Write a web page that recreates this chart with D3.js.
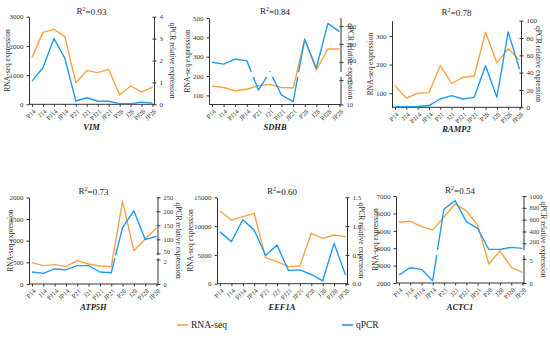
<!DOCTYPE html>
<html>
<head>
<meta charset="utf-8">
<script src="https://cdn.jsdelivr.net/npm/d3@7/dist/d3.min.js"></script>
<style>
  body { margin: 0; background: #fff; }
  svg { display: block; font-family: "Liberation Serif", "Times New Roman", serif; }
  .axis path, .axis line { stroke: #333; }
  .axis text { fill: #333; font-size: 7px; font-family: "Liberation Serif", serif; }
</style>
</head>
<body>
<svg width="550" height="338"></svg>
<script>
// samples along x
const samples = ["P14", "J14", "PJ14", "JP14", "P21", "J21", "PJ21", "JP21", "P28", "J28", "PJ28", "JP28"];
const genes = ["VIM", "SDHB", "RAMP2", "ATP5H", "EEF1A", "ACTC1"];
const r2 = ["0.93", "0.84", "0.78", "0.73", "0.60", "0.54"];

// RNA-seq values (left axis)
const rnaVIM = [1608, 2464, 2567, 2315, 741, 1152, 1084, 1198, 319, 627, 422, 582];
const rnaSDHB = [148, 141, 124, 132, 150, 157, 141, 138, 390, 231, 340, 340];
const rnaRAMP2 = [126, 83, 100, 102, 197, 134, 155, 160, 313, 206, 255, 216];
const rnaATP5H = [492, 423, 446, 400, 538, 462, 415, 400, 1908, 769, 1038, 1300];
const rnaEEF1A = [12625, 11062, 11640, 12220, 4517, 3822, 2954, 3070, 8745, 7876, 8456, 8166];
const rnaACTC1 = [5492, 5550, 5244, 5053, 5779, 6542, 6141, 5340, 3088, 3851, 2897, 2611];

// qPCR values (right axis)
const qVIM = [1.06, 1.67, 3.01, 2.10, 0.15, 0.30, 0.14, 0.14, 0.03, 0.03, 0.10, 0.05];
const qSDHB = [98, 88, 115, 107, 12.95, 45, 11.9, 10.6, 226, 65, 314, 268];
const qRAMP2 = [0.8, 0.8, 1, 2, 9.6, 13.5, 9.6, 11.5, 48, 11.5, 87, 44];
const qATP5H = [0.98, 0.87, 1.23, 1.17, 1.5, 1.5, 0.98, 0.92, 142, 202, 99, 111];
const qEEF1A = [0.90, 0.73, 1.11, 0.93, 0.49, 0.67, 0.23, 0.24, 0.16, 0.05, 0.70, 0.15];
const qACTC1 = [1.66, 3.17, 2.83, 0.48, 776, 922, 566, 454, 95, 95, 132, 115];

// tick labels
const leftTicks = [
  [0, 1000, 2000, 3000],
  [100, 200, 300, 400, 500],
  [100, 200, 300],
  [0, 500, 1000, 1500, 2000],
  [0, 5000, 10000, 15000],
  [2000, 3000, 4000, 5000, 6000, 7000]
];
const rightTicks = [
  [0, 1, 2, 3, 4],
  [10, 15, 100, 200, 300],
  [0, 20, 40, 60, 80, 100],
  [0, 2, 50, 100, 150, 200, 250],
  [0, 0.5, 1, 1.5],
  [0, 5, 200, 400, 600, 800, 1000]
];

const rnaData = [rnaVIM, rnaSDHB, rnaRAMP2, rnaATP5H, rnaEEF1A, rnaACTC1];
const qData = [qVIM, qSDHB, qRAMP2, qATP5H, qEEF1A, qACTC1];

const orange = "#F8A33E";
const blue = "#1F9BF0";

// panel frames; broken right axes use stops [low, lowTop, highBottom, high]
const panels = [
  { x0: 29, x1: 154, top: 16.7, bottom: 104.3, lDom: [0, 3000], rDom: [0, 4], lt: 7, rt: 172, ty: 11, gy: 127 },
  { x0: 209, x1: 341, top: 18, bottom: 104.5, lDom: [53, 500], rDom: [10, 15.6, 44, 344], rPx: [104.5, 77, 72, 18], lt: 187, rt: 350, ty: 11, gy: 127 },
  { x0: 392, x1: 521, top: 20.7, bottom: 107.3, lDom: [51, 353], rDom: [0, 100], lt: 370, rt: 538, ty: 12, gy: 129 },
  { x0: 29, x1: 158, top: 197.3, bottom: 284, lDom: [0, 2000], rDom: [0, 2.1, 43, 250], rPx: [284, 258.3, 255.3, 197.3], lt: 10, rt: 178, ty: 191, gy: 307 },
  { x0: 217, x1: 347, top: 197.3, bottom: 283.7, lDom: [0, 15000], rDom: [0, 1.5], lt: 190, rt: 361, ty: 191, gy: 307 },
  { x0: 396, x1: 524, top: 196, bottom: 283, lDom: [2000, 7000], rDom: [0, 5.8, 87, 1000], rPx: [283, 255, 250, 196], lt: 375, rt: 543, ty: 190, gy: 307 }
];

const svg = d3.select("svg");
const defs = svg.append("defs");

panels.forEach((p, i) => {
  const g = svg.append("g");

  const x = d3.scalePoint().domain(samples).range([p.x0 + 3, p.x1 - 1.5]);
  const yL = d3.scaleLinear().domain(p.lDom).range([p.bottom, p.top]);
  const yR = d3.scaleLinear().domain(p.rDom).range(p.rPx || [p.bottom, p.top]);

  // x axis
  const xAxis = g.append("g").attr("class", "axis")
    .attr("transform", "translate(0," + p.bottom + ")")
    .call(d3.axisBottom(x).tickSize(2.5).tickSizeOuter(0).tickPadding(2));
  xAxis.select(".domain").attr("d", "M" + p.x0 + ",0H" + p.x1);
  xAxis.selectAll(".tick text")
    .attr("text-anchor", "end")
    .attr("dy", "0.3em")
    .attr("transform", "translate(-1,3) rotate(-45)")
    .style("font-size", "6.5px");

  // left axis
  g.append("g").attr("class", "axis")
    .attr("transform", "translate(" + p.x0 + ",0)")
    .call(d3.axisLeft(yL).tickValues(leftTicks[i]).tickSize(2.5).tickSizeOuter(0).tickFormat(d3.format("d")));

  // right axis (segments drawn by hand when broken)
  const rAxis = g.append("g").attr("class", "axis")
    .attr("transform", "translate(" + p.x1 + ",0)")
    .call(d3.axisRight(yR).tickValues(rightTicks[i]).tickSize(2.5).tickSizeOuter(0)
      .tickFormat(i === 4 ? d3.format(".1f") : d3.format("d")));
  rAxis.selectAll(".tick line").attr("x1", -1.5);
  if (p.rPx) {
    rAxis.select(".domain").attr("d",
      "M0," + p.rPx[0] + "V" + p.rPx[1] + "M0," + p.rPx[2] + "V" + p.rPx[3]);
    // keep the two labels next to the break apart
    rAxis.selectAll(".tick text")
      .attr("dy", d => d === p.rDom[1] || d < p.rDom[1] && d > p.rDom[0] && rightTicks[i].filter(v => v < p.rDom[1]).slice(-1)[0] === d ? "0.6em"
        : d > p.rDom[2] && rightTicks[i].filter(v => v > p.rDom[2])[0] === d ? "0.1em" : "0.32em")
      .style("font-size", "6.5px");
    const clip = defs.append("clipPath").attr("id", "clip" + i);
    clip.append("rect").attr("x", p.x0).attr("width", p.x1 - p.x0)
      .attr("y", p.rPx[3] - 5).attr("height", p.rPx[2] - p.rPx[3] + 5);
    clip.append("rect").attr("x", p.x0).attr("width", p.x1 - p.x0)
      .attr("y", p.rPx[1]).attr("height", p.rPx[0] - p.rPx[1] + 2);
  }

  // lines
  const lineL = d3.line().x((d, j) => x(samples[j])).y(d => yL(d));
  const lineR = d3.line().x((d, j) => x(samples[j])).y(d => yR(d));

  g.append("path").datum(rnaData[i])
    .attr("d", lineL).attr("fill", "none")
    .attr("stroke", orange).attr("stroke-width", 1.4).attr("stroke-linejoin", "round");

  const bl = g.append("path").datum(qData[i])
    .attr("d", lineR).attr("fill", "none")
    .attr("stroke", blue).attr("stroke-width", 1.4).attr("stroke-linejoin", "round");
  if (p.rPx) bl.attr("clip-path", "url(#clip" + i + ")");

  // titles
  const cx = (p.x0 + p.x1) / 2;
  const t = g.append("text").attr("x", cx).attr("y", p.ty).attr("text-anchor", "middle")
    .attr("dominant-baseline", "central").style("font-size", "9px").attr("fill", "#222");
  t.append("tspan").text("R");
  t.append("tspan").text("2").attr("dy", "-0.4em").style("font-size", "6px");
  t.append("tspan").text("=" + r2[i]).attr("dy", "0.4em");

  g.append("text").attr("x", cx).attr("y", p.gy).attr("text-anchor", "middle")
    .attr("dominant-baseline", "central")
    .style("font-size", "8.5px").style("font-weight", "bold").style("font-style", "italic")
    .attr("fill", "#222").text(genes[i]);

  const midY = (p.top + p.bottom) / 2;
  g.append("text").attr("transform", "translate(" + p.lt + "," + midY + ") rotate(-90)")
    .attr("text-anchor", "middle").attr("dominant-baseline", "central")
    .style("font-size", "7.5px").attr("fill", "#333").text("RNA-seq expression");
  g.append("text").attr("transform", "translate(" + p.rt + "," + midY + ") rotate(90)")
    .attr("text-anchor", "middle").attr("dominant-baseline", "central")
    .style("font-size", "7.5px").attr("fill", "#333").text("qPCR relative expression");
});

// legend
const legend = svg.append("g").attr("transform", "translate(0,325)");
const items = [{ name: "RNA-seq", color: orange, x: 177 }, { name: "qPCR", color: blue, x: 342 }];
items.forEach(it => {
  legend.append("line").attr("x1", it.x).attr("x2", it.x + 11).attr("y1", 0).attr("y2", 0)
    .attr("stroke", it.color).attr("stroke-width", 1.6);
  legend.append("text").attr("x", it.x + 14).attr("y", 0).attr("dominant-baseline", "central")
    .style("font-size", "9.5px").attr("fill", "#222").text(it.name);
});
</script>
</body>
</html>
